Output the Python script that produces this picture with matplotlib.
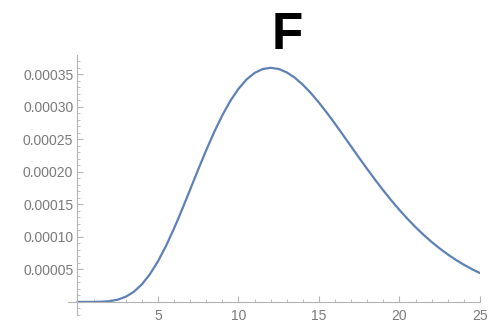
import matplotlib
matplotlib.use("Agg")
import matplotlib.pyplot as plt
from matplotlib.ticker import MultipleLocator, FuncFormatter

# Data
x_values = [0, 0.5, 1, 1.5, 2, 2.5, 3, 3.5, 4, 4.5, 5, 5.5, 6, 6.5, 7, 7.5, 8, 8.5,
            9, 9.5, 10, 10.5, 11, 11.5, 12, 12.5, 13, 13.5, 14, 14.5, 15, 15.5, 16,
            16.5, 17, 17.5, 18, 18.5, 19, 19.5, 20, 20.5, 21, 21.5, 22, 22.5, 23,
            23.5, 24, 24.5, 25]
y_values = [0.0, 0.0000000006, 0.0000000295, 0.000000261, 0.00000114, 0.0000034,
            0.00000791, 0.00001553, 0.00002694, 0.00004254, 0.00006233, 0.00008601,
            0.00011289, 0.00014212, 0.00017266, 0.00020342, 0.00023335, 0.00026145,
            0.00028692, 0.00030909, 0.00032746, 0.00034176, 0.00035186, 0.00035780,
            0.00035972, 0.00035790, 0.00035267, 0.00034447, 0.00033369, 0.00032078,
            0.00030617, 0.00029030, 0.00027353, 0.00025622, 0.00023869, 0.00022120,
            0.00020399, 0.00018726, 0.00017115, 0.00015577, 0.00014121, 0.00012754,
            0.00011478, 0.00010294, 0.00009203, 0.00008202, 0.00007288, 0.00006458,
            0.00005707, 0.00005030, 0.00004422]
title_text = "F"

plt.rcParams['font.family'] = ['Liberation Sans', 'DejaVu Sans']

fig = plt.figure(figsize=(5.0, 3.27), dpi=100)
ax = fig.add_axes([0.1356, 0.037, 0.96 - 0.1356, 0.831 - 0.037])

ax.plot(x_values, y_values, color='#5E81B5', lw=1.6, solid_capstyle='round')

ax.set_xlim(-0.6, 25.0)
ax.set_ylim(-0.00002, 0.000379)

axis_color = '#b4b4b4'
label_color = '#7a7a7a'
for s in ['top', 'right']:
    ax.spines[s].set_visible(False)
ax.spines['bottom'].set_position(('data', 0))
ax.spines['left'].set_position(('data', 0))
ax.spines['bottom'].set_color(axis_color)
ax.spines['left'].set_color(axis_color)
ax.spines['bottom'].set_linewidth(0.8)
ax.spines['left'].set_linewidth(0.8)

ax.xaxis.set_major_locator(MultipleLocator(5))
ax.xaxis.set_minor_locator(MultipleLocator(1))
ax.yaxis.set_major_locator(MultipleLocator(0.00005))
ax.yaxis.set_minor_locator(MultipleLocator(0.00001))

ax.xaxis.set_major_formatter(FuncFormatter(lambda v, p: "" if abs(v) < 1e-9 else f"{v:g}"))
ax.yaxis.set_major_formatter(FuncFormatter(lambda v, p: "" if abs(v) < 1e-12 else f"{v:.5f}"))

ax.tick_params(which='both', direction='in', color=axis_color, labelcolor=label_color,
               labelsize=10)
ax.tick_params(which='major', length=4.5, width=0.8)
ax.tick_params(which='minor', length=2.5, width=0.6)
ax.tick_params(axis='x', which='major', pad=5)
ax.tick_params(axis='y', which='major', pad=3)

fig.text(287 / 500, 1 - 49.3 / 327, title_text, ha='center', va='baseline',
         fontsize=37, fontweight='bold', color='black')

fig.savefig("out.png", dpi=100)
